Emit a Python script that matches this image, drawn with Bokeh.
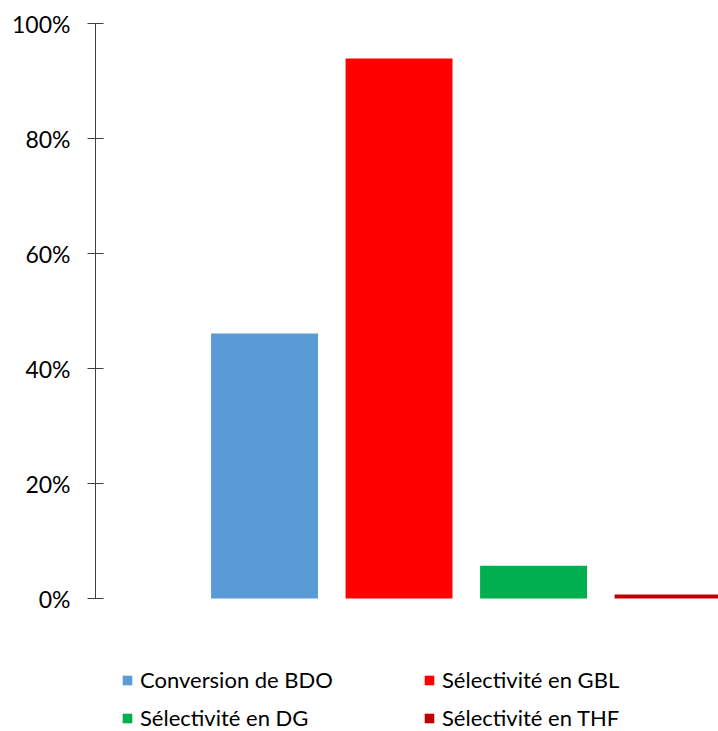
from bokeh.plotting import figure
from bokeh.models import Range1d, NumeralTickFormatter, FixedTicker, Legend, LegendItem, ColumnDataSource
from bokeh.embed import file_html
from bokeh.resources import INLINE

# Data
categories = ["Conversion de BDO", "Sélectivité en GBL", "Sélectivité en DG", "Sélectivité en THF"]
values = [0.461, 0.939, 0.057, 0.007]
colors = ["#5B9BD5", "#FF0000", "#00B050", "#C00000"]
y_ticks = [0, 0.2, 0.4, 0.6, 0.8, 1.0]

xs = [i + 1 for i in range(len(categories))]
src = ColumnDataSource(dict(x=xs, top=values, color=colors, label=categories))

# frame spans full height; legend sits inside it below the 0% line
p = figure(width=718, height=731, output_backend="svg", toolbar_location=None,
           x_range=Range1d(-0.2565, 4.375), y_range=Range1d(-0.2313, 1),
           x_axis_location=None,
           min_border_left=95, min_border_right=0, min_border_top=23, min_border_bottom=0)
p.outline_line_color = None
p.grid.visible = False
p.background_fill_color = "white"
p.border_fill_color = "white"

r = p.vbar(x="x", top="top", bottom=0, width=0.795, fill_color="color", line_color=None, source=src)

ya = p.yaxis[0]
ya.bounds = (0, 1)
ya.ticker = FixedTicker(ticks=y_ticks)
ya.formatter = NumeralTickFormatter(format="0%")
ya.major_tick_in = 8
ya.major_tick_out = 8
ya.minor_tick_line_color = None
ya.axis_line_color = "#404040"
ya.major_tick_line_color = "#404040"
ya.major_label_text_font = "Lato"
ya.major_label_text_font_size = "23px"
ya.major_label_text_color = "black"
ya.major_label_standoff = 17

# legend laid out column by column: put items so rows read (BDO, GBL) / (DG, THF)
legend_order = [0, 2, 1, 3]
items = [LegendItem(label=categories[i], renderers=[r], index=i) for i in legend_order]
legend = Legend(items=items, location=(26, 0), ncols=2,
                label_text_font="Lato", label_text_font_size="22px", label_text_color="black",
                glyph_width=12, glyph_height=12, label_standoff=7,
                label_width=272, spacing=11, padding=0, margin=0,
                border_line_color=None, background_fill_alpha=0)
p.add_layout(legend, "center")

open("out.html", "w").write(file_html(p, INLINE))
